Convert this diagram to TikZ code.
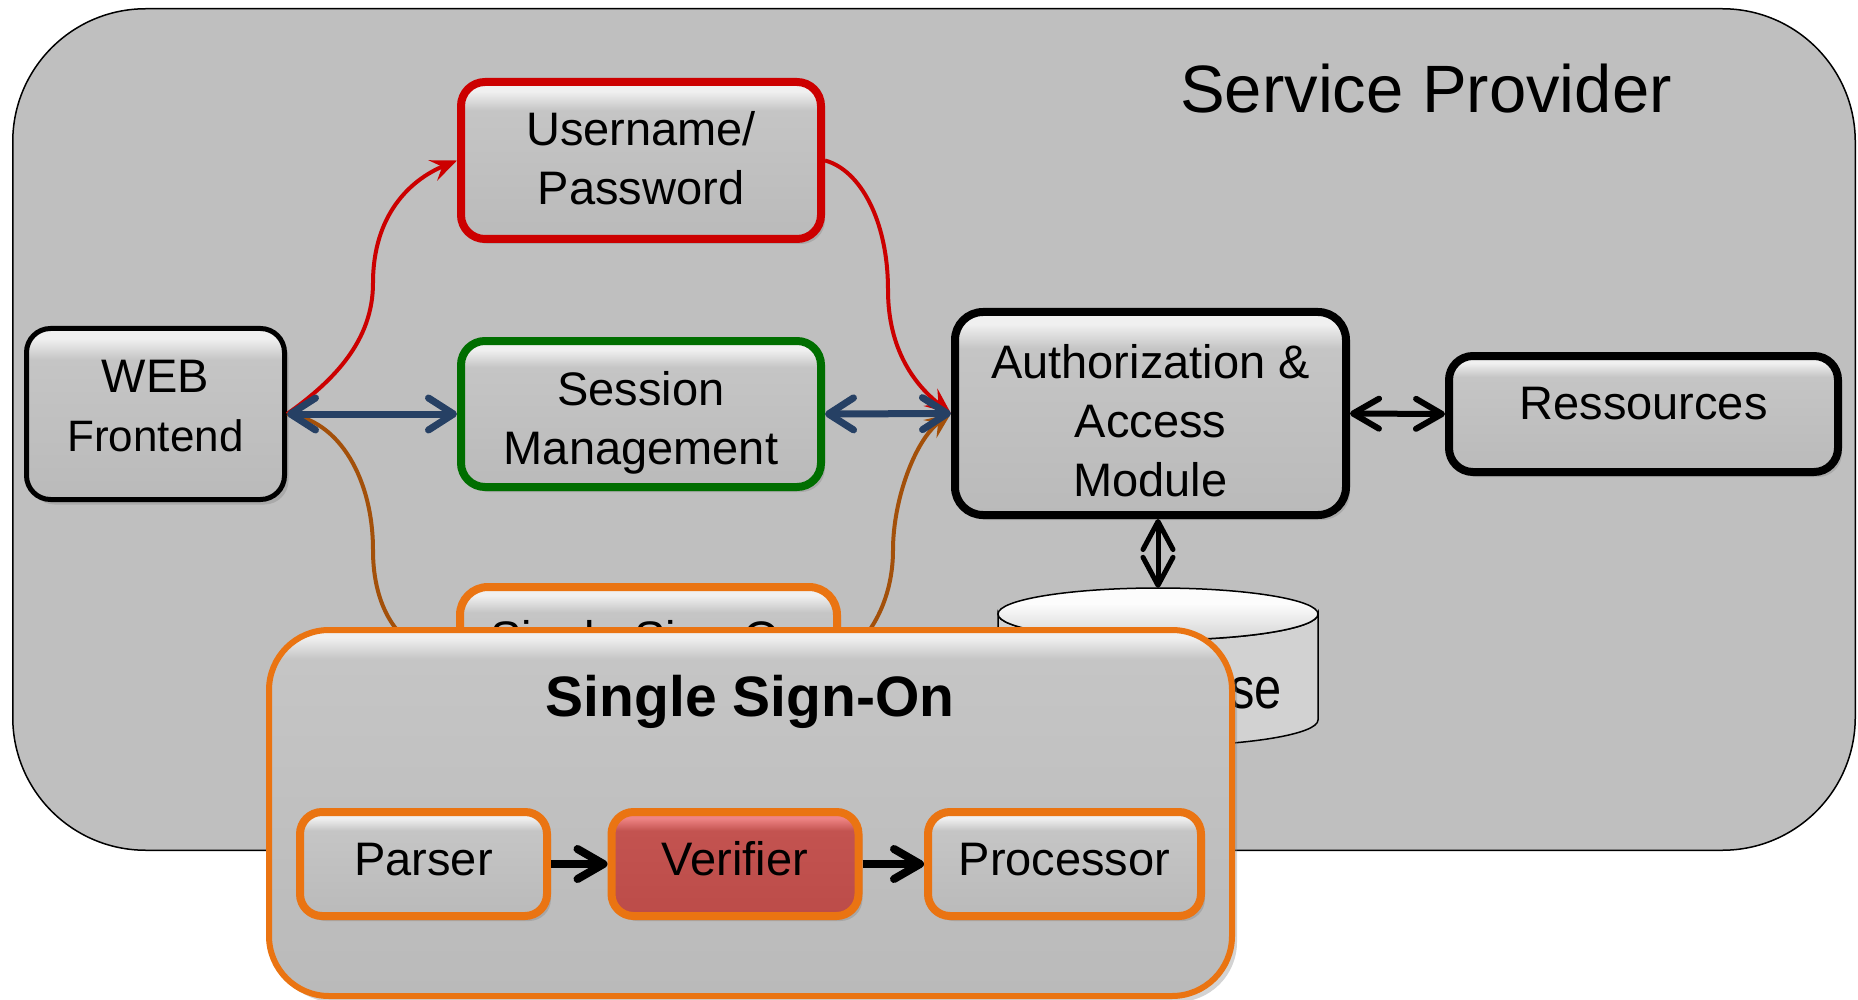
\documentclass[tikz,border=0pt]{standalone}
\usepackage{fontspec}
\setmainfont{Liberation Sans}
\usetikzlibrary{arrows.meta,shadows}
\definecolor{bggray}{RGB}{191,191,191}
\definecolor{gA}{RGB}{186,186,186}
\definecolor{gB}{RGB}{197,197,197}
\definecolor{gC}{RGB}{240,240,240}
\definecolor{rA}{RGB}{188,76,73}
\definecolor{rB}{RGB}{195,83,80}
\definecolor{rC}{RGB}{238,132,132}
\definecolor{bdred}{RGB}{204,0,0}
\definecolor{bdgreen}{RGB}{0,110,0}
\definecolor{bdorange}{RGB}{234,116,18}
\definecolor{arblue}{RGB}{38,64,100}
\definecolor{arbrown}{RGB}{163,80,10}
\definecolor{cylbody}{RGB}{210,210,210}
\definecolor{cyltop}{RGB}{252,252,252}
\definecolor{cyltopb}{RGB}{212,212,212}
\pgfdeclareverticalshading{bevelgray}{100bp}{color(0bp)=(gA); color(25bp)=(gA); color(66bp)=(gB); color(72bp)=(gC); color(100bp)=(gC)}
\pgfdeclareverticalshading{bevelred}{100bp}{color(0bp)=(rA); color(25bp)=(rA); color(66bp)=(rB); color(72bp)=(rC); color(100bp)=(rC)}
\pgfdeclareverticalshading{bevelbig}{100bp}{color(0bp)=(gA); color(25bp)=(gA); color(71bp)=(gB); color(74bp)=(gC); color(100bp)=(gC)}
\pgfdeclareverticalshading{cyltopsh}{100bp}{color(0bp)=(cyltopb); color(25bp)=(cyltopb); color(60bp)=(cyltop); color(100bp)=(cyltop)}
\newcommand\Ls{\rule[-12pt]{0pt}{59pt}}
\newcommand\Dp[1]{\rule[-#1pt]{0pt}{#1pt}}
\newcommand\Ht[1]{\rule{0pt}{#1pt}}
\tikzset{
  bluetip/.tip={Straight Barb[length=25pt,width=32pt,round]},
  blacktip/.tip={Straight Barb[length=26pt,width=30pt,round]},
  dbtip/.tip={Straight Barb[length=28pt,width=30pt,round]},
  curvetip/.tip={Stealth[length=26pt,width=22pt,inset=10pt]},
  box/.style={rectangle, rounded corners=24pt, line width=8pt, inner sep=0pt,
    shade, shading=bevelgray, align=center,
    font=\fontsize{47pt}{59pt}\selectfont,
    drop shadow={shadow xshift=4pt, shadow yshift=-5pt, opacity=0.35}},
  bigbox/.style={rectangle, rounded corners=60pt, line width=6pt, inner sep=0pt,
    shade, shading=bevelbig, draw=bdorange,
    drop shadow={shadow xshift=5pt, shadow yshift=-6pt, opacity=0.35}},
  bluearrow/.style={draw=arblue, line width=7pt, bluetip-bluetip},
  blackarrow/.style={draw=black, line width=7pt, blacktip-blacktip},
  flowarrow/.style={draw=black, line width=8pt, -blacktip},
  redcurve/.style={draw=bdred, line width=4pt, -curvetip},
  browncurve/.style={draw=arbrown, line width=4pt},
}
\begin{document}
\begin{tikzpicture}[x=1pt,y=-1pt]
\useasboundingbox (0,0) rectangle (1858,1000);
% service provider background
\node[draw=black, line width=1.5pt, fill=bggray, rounded corners=133pt,
  minimum width=1842.5, minimum height=841.5, inner sep=0pt] (sp) at (934,429.5) {};
\node[font=\fontsize{67pt}{80pt}\selectfont, text height=52pt, text depth=4pt, inner sep=0pt]
  (spT) at (1426,89) {Service Provider};
% upper boxes
\node[box, draw=black, line width=5pt, minimum width=258, minimum height=171] (web) at (155.5,414)
  {\Ls WEB\\\Ls {\fontsize{44pt}{59pt}\selectfont Frontend}\Dp{32}};
\node[box, draw=bdred, minimum width=360, minimum height=157] (user) at (641,160.5)
  {\Ls Username/\\\Ls Password\Dp{18}};
\node[box, draw=bdgreen, minimum width=360, minimum height=146] (sess) at (641,414)
  {\Ls\Ht{53}Session\\\Ls Management};
\node[box, draw=black, rounded corners=28pt, minimum width=391, minimum height=203] (auth) at (1150.5,413.5)
  {\Ls\Ht{60}Authorization \&\\\Ls Access\\\Ls Module};
\node[box, draw=black, minimum width=389, minimum height=116] (res) at (1643.5,414)
  {\Ls Ressources\Dp{37}};
\node[box, draw=bdorange, rounded corners=28pt, minimum width=377, minimum height=142] (ssob) at (648.5,658)
  {\Ls Single Sign-On\Dp{54}};
% database
\node[minimum width=320, minimum height=158, inner sep=0pt] (db) at (1158,667) {};
\path[draw=black, line width=1.5pt, fill=cylbody] (998,614) -- (998,720)
  arc[start angle=180, end angle=360, x radius=160pt, y radius=26pt] -- (1318,614)
  arc[start angle=0, end angle=-180, x radius=160pt, y radius=26pt] -- cycle;
\path[draw=black, line width=1.5pt, shade, shading=cyltopsh] (1158,614) ellipse[x radius=160pt, y radius=26pt];
\node[font=\fontsize{58pt}{70pt}\selectfont, anchor=base east, inner sep=0pt] (dbT) at (1282,708)
  {\scalebox{0.84}[1]{Database}};
% curves
\draw[redcurve] (web.east) .. controls (335,380) and (373,340) .. (373,283)
  .. controls (373,215) and (410,180) .. (user.west);
\draw[redcurve] (user.east) .. controls (860,170) and (888,220) .. (888,290)
  .. controls (888,350) and (915,385) .. (auth.west);
\draw[browncurve] (web.east) .. controls (340,420) and (373,480) .. (373,550)
  .. controls (373,620) and (410,658) .. (ssob.west);
\draw[browncurve, -curvetip] (ssob.east) .. controls (870,640) and (893,600) .. (893,550)
  .. controls (893,500) and (915,440) .. (auth.west);
% straight arrows
\draw[bluearrow] (web.east) -- (sess.west);
\draw[bluearrow] (sess.east) -- (auth.west);
\draw[blackarrow, line width=6pt] (auth.east) -- (res.west);
\draw[draw=black, line width=5pt, dbtip-dbtip] (db.north |- auth.south) -- (db.north);
% single sign-on overlay
\node[bigbox, minimum width=963, minimum height=366] (sso) at (750.5,813) {};
\node[font=\bfseries\fontsize{57pt}{68pt}\selectfont, text height=45pt, text depth=4pt, inner sep=0pt]
  (ssoT) at (750,696) {Single Sign-On};
\node[box, draw=bdorange, rounded corners=22pt, minimum width=247, minimum height=104] (parser) at (423.5,864)
  {\Ls Parser\Dp{25}};
\node[box, draw=bdorange, shading=bevelred, rounded corners=22pt, minimum width=247, minimum height=104] (verif) at (735,864)
  {\Ls Verifier\Dp{25}};
\node[box, draw=bdorange, rounded corners=22pt, minimum width=273, minimum height=104] (proc) at (1064.5,864)
  {\Ls Processor\Dp{25}};
\draw[flowarrow] (parser.east) -- (verif.west);
\draw[flowarrow] (verif.east) -- (proc.west);
\end{tikzpicture}
\end{document}
